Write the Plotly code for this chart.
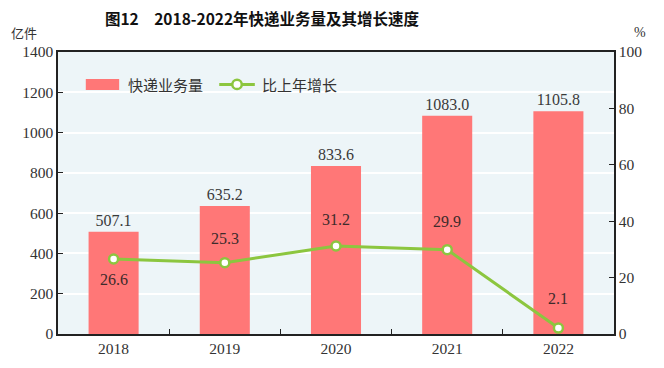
import plotly.graph_objects as go

years = ["2018", "2019", "2020", "2021", "2022"]
volume = [507.1, 635.2, 833.6, 1083.0, 1105.8]
growth = [26.6, 25.3, 31.2, 29.9, 2.1]
growth_shift = [-21, 24, 27, 28, 30]  # label offset in px (negative = below point)

serif = "Liberation Serif"
cjk = "Noto Sans CJK SC"
bar_color = "#ff7777"
line_color = "#8cc63f"
txt = "#333333"

fig = go.Figure()
fig.add_trace(go.Bar(
    x=years, y=volume, name="快递业务量", showlegend=False,
    marker=dict(color=bar_color, line=dict(width=0)),
    width=0.45,
    text=[f"{v:.1f}" for v in volume], textposition="outside",
    textfont=dict(family=serif, size=16, color="#3a3a3a"),
    cliponaxis=False,
))
fig.add_trace(go.Scatter(
    x=years, y=growth, name="比上年增长", yaxis="y2", showlegend=False,
    mode="lines+markers",
    line=dict(color=line_color, width=3),
    marker=dict(size=9, color="white", line=dict(color=line_color, width=2.5)),
    cliponaxis=False,
))

axis_common = dict(ticks="inside", ticklen=5, tickcolor="#222222", showline=True,
                   linecolor="#222222", linewidth=1.5, automargin=False,
                   tickfont=dict(family=serif, size=15.5, color=txt))

# custom legend (paper coordinates)
ly = 0.885
shapes = [
    dict(type="rect", xref="paper", yref="paper", x0=0.050, x1=0.110, y0=0.865, y1=0.904,
         fillcolor=bar_color, line=dict(width=0)),
    dict(type="line", xref="paper", yref="paper", x0=0.290, x1=0.354, y0=ly, y1=ly,
         line=dict(color=line_color, width=3)),
    dict(type="circle", xref="paper", yref="paper", x0=0.322 - 0.0085, x1=0.322 + 0.0085,
         y0=ly - 0.0165, y1=ly + 0.0165, fillcolor="white", line=dict(color=line_color, width=2.5)),
]

annotations = [
    dict(text="快递业务量", xref="paper", yref="paper", x=0.122, y=ly, xanchor="left",
         yanchor="middle", showarrow=False, font=dict(family=cjk, size=15, color=txt)),
    dict(text="比上年增长", xref="paper", yref="paper", x=0.363, y=ly, xanchor="left",
         yanchor="middle", showarrow=False, font=dict(family=cjk, size=15, color=txt)),
    dict(text="亿件", xref="paper", yref="paper", x=-0.088, y=1.03, xanchor="left",
         yanchor="bottom", showarrow=False, font=dict(family=cjk, size=13, color=txt)),
    dict(text="%", xref="paper", yref="paper", x=1.032, y=1.035, xanchor="left",
         yanchor="bottom", showarrow=False, font=dict(family=serif, size=14, color=txt)),
]
for i, (g, s) in enumerate(zip(growth, growth_shift)):
    annotations.append(dict(text=f"{g:.1f}", x=i, y=g, xref="x", yref="y2", yshift=s,
                            showarrow=False, xanchor="center", yanchor="middle",
                            font=dict(family=serif, size=16, color="#3d2b2b")))

fig.update_layout(
    width=664, height=368,
    margin=dict(l=58, r=50, t=52, b=34, autoexpand=False),
    paper_bgcolor="white",
    plot_bgcolor="#edf5f8",
    showlegend=False,
    title=dict(text="<b>图12　2018-2022年快递业务量及其增长速度</b>", x=262 / 664, xanchor="center",
               y=0.948, yanchor="middle", font=dict(family=cjk, size=15.5, color="#111111")),
    xaxis=dict(type="category", range=[-0.5, len(years) - 0.5], showgrid=False,
               tickson="boundaries", mirror=True, **axis_common),
    yaxis=dict(range=[0, 1400], dtick=200, showgrid=True, gridcolor="white", gridwidth=1.5,
               zeroline=False, **axis_common),
    yaxis2=dict(range=[0, 100], dtick=20, overlaying="y", side="right", showgrid=False,
                zeroline=False, **axis_common),
    shapes=shapes,
    annotations=annotations,
)

fig.write_html("out.html", config={"displayModeBar": False},
               post_script="document.body.style.margin='0';")
